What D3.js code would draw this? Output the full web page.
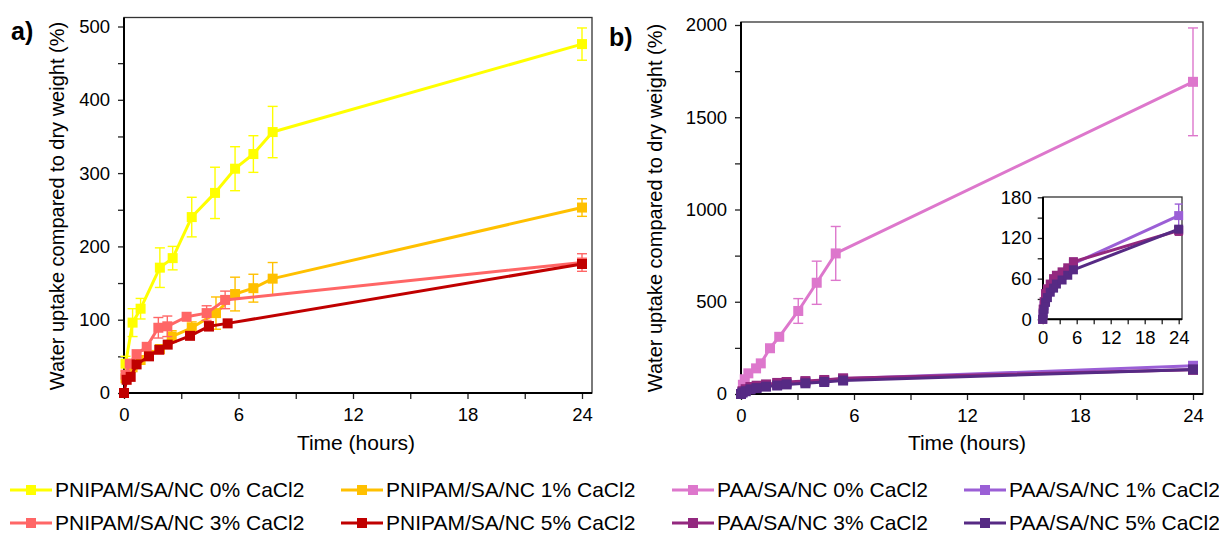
<!DOCTYPE html>
<html>
<head>
<meta charset="utf-8">
<script src="https://cdn.jsdelivr.net/npm/d3@7"></script>
<style>
  body { margin: 0; background: #fff; }
  svg { font-family: "Liberation Sans", Arial, sans-serif; }
  .tick line { stroke: #222; stroke-width: 1.3; }
  .domain { display: none; }
</style>
</head>
<body>
<div id="chart"></div>
<script>
// time in hours, water uptake in %, error bars (0 = none)
const pnTime0 = [0.08, 0.45, 0.87, 1.88, 2.55, 3.55, 4.77, 5.82, 6.78, 7.79, 24];
const pnVal0  = [40, 96, 115, 171, 184, 240, 273, 306, 326, 356, 476];
const pnErr0  = [10, 19, 14, 27, 16, 27, 35, 30, 25, 35, 22];

const pnTime1 = [0.08, 0.45, 0.87, 1.3, 1.88, 2.5, 3.55, 4.82, 5.82, 6.78, 7.79, 24];
const pnVal1  = [20, 35, 45, 52, 60, 77, 89, 109, 135, 143, 156, 253];
const pnErr1  = [0, 0, 0, 0, 0, 8, 8, 22, 23, 19, 22, 12];

const pnTime3 = [0.08, 0.3, 0.66, 1.19, 1.8, 2.27, 3.28, 4.33, 5.3, 24];
const pnVal3  = [25, 40, 53, 63, 89, 91, 104, 109, 127, 178];
const pnErr3  = [0, 0, 0, 0, 14, 14, 0, 10, 12, 12];

const pnTime5 = [0, 0.14, 0.35, 0.66, 1.31, 1.85, 2.29, 3.46, 4.45, 5.43, 24];
const pnVal5  = [0, 18, 22, 39, 50, 59, 66, 78, 91, 95, 176];
const pnErr5  = [0, 0, 0, 0, 0, 0, 0, 0, 6, 0, 5];

const paaTime0 = [0, 0.1, 0.2, 0.39, 0.8, 1.05, 1.54, 2.03, 3.04, 4.02, 5.03, 24];
const paaVal0  = [0, 50, 80, 112, 139, 166, 248, 310, 450, 603, 762, 1692];
const paaErr0  = [0, 0, 0, 0, 0, 0, 0, 0, 67, 117, 146, 292];

const paaTime = [0, 0.08, 0.25, 0.5, 0.83, 1.33, 1.92, 2.42, 3.42, 4.42, 5.42, 24];
const paaVal1 = [0, 10, 20, 30, 38, 45, 52, 58, 65, 72, 82, 153];
const paaErr1 = [0, 0, 0, 0, 0, 0, 0, 0, 0, 0, 8, 17];
const paaVal3 = [0, 15, 26, 38, 45, 52, 60, 65, 70, 76, 85, 131];
const paaErr3 = [0, 0, 0, 0, 0, 0, 0, 0, 0, 0, 4, 7];
const paaVal5 = [0, 8, 15, 25, 32, 40, 46, 52, 58, 65, 73, 133];
const paaErr5 = [0, 0, 0, 0, 0, 0, 0, 0, 0, 0, 0, 4];

const xTicks = [0, 6, 12, 18, 24];
const yTicksA = [0, 100, 200, 300, 400, 500];
const yTicksB = [0, 500, 1000, 1500, 2000];
const yTicksInset = [0, 60, 120, 180];

const seriesA = [
  {name: "PNIPAM/SA/NC 0% CaCl2", color: "#ffff00", t: pnTime0, v: pnVal0, e: pnErr0},
  {name: "PNIPAM/SA/NC 1% CaCl2", color: "#ffc000", t: pnTime1, v: pnVal1, e: pnErr1},
  {name: "PNIPAM/SA/NC 3% CaCl2", color: "#ff6666", t: pnTime3, v: pnVal3, e: pnErr3},
  {name: "PNIPAM/SA/NC 5% CaCl2", color: "#c00000", t: pnTime5, v: pnVal5, e: pnErr5}
];
const seriesB = [
  {name: "PAA/SA/NC 0% CaCl2", color: "#dd77cc", t: paaTime0, v: paaVal0, e: paaErr0},
  {name: "PAA/SA/NC 1% CaCl2", color: "#9b5fd6", t: paaTime, v: paaVal1, e: paaErr1},
  {name: "PAA/SA/NC 3% CaCl2", color: "#93287f", t: paaTime, v: paaVal3, e: paaErr3},
  {name: "PAA/SA/NC 5% CaCl2", color: "#562a84", t: paaTime, v: paaVal5, e: paaErr5}
];

const svg = d3.select("#chart").append("svg")
  .attr("width", 1219).attr("height", 533);

function drawPanel(opts) {
  const g = svg.append("g");
  const x = d3.scaleLinear().domain([0, 24]).range(opts.xr);
  const y = d3.scaleLinear().domain([0, opts.ymax]).range(opts.yr);

  // frame (plot area border)
  g.append("rect")
    .attr("x", opts.frame[0]).attr("y", opts.frame[1])
    .attr("width", opts.frame[2] - opts.frame[0])
    .attr("height", opts.frame[3] - opts.frame[1])
    .attr("fill", "#fff").attr("stroke", "#333").attr("stroke-width", 1.3);

  // axes
  const minorY = d3.range(0, opts.ymax + 0.001, opts.yminor);
  const yAxis = d3.axisLeft(y).tickValues(minorY).tickSize(opts.tick).tickPadding(opts.ypad)
    .tickFormat(d => opts.yticks.includes(d) ? d : "");
  const xAxis = d3.axisBottom(x).tickValues(d3.range(0, 24.001, 3)).tickSize(opts.tick).tickPadding(opts.xpad)
    .tickFormat(d => xTicks.includes(d) ? d : "");

  g.append("g").attr("transform", `translate(${opts.xr[0]},0)`).call(yAxis)
    .selectAll("text").style("font-size", opts.fs + "px").attr("fill", "#000");
  g.append("g").attr("transform", `translate(0,${opts.frame[3]})`).call(xAxis)
    .selectAll("text").style("font-size", opts.fs + "px").attr("fill", "#000");

  // axis lines
  g.append("line").attr("x1", opts.frame[0]).attr("x2", opts.frame[0])
    .attr("y1", opts.frame[1]).attr("y2", opts.frame[3]).attr("stroke", "#000").attr("stroke-width", 2);
  g.append("line").attr("x1", opts.frame[0]).attr("x2", opts.frame[2])
    .attr("y1", opts.frame[3]).attr("y2", opts.frame[3]).attr("stroke", "#000").attr("stroke-width", 2);

  const line = d3.line().x(d => x(d[0])).y(d => y(d[1]));

  opts.series.forEach(s => {
    const pts = s.t.map((t, i) => [t, s.v[i], s.e[i]]);
    g.append("path").datum(pts).attr("d", line)
      .attr("fill", "none").attr("stroke", s.color).attr("stroke-width", opts.lw)
      .attr("stroke-linejoin", "round");

    const eb = g.append("g").attr("stroke", s.color).attr("stroke-width", 1.4);
    pts.filter(p => p[2] > 0).forEach(p => {
      const cx = x(p[0]), y1 = y(p[1] + p[2]), y2 = y(p[1] - p[2]);
      eb.append("line").attr("x1", cx).attr("x2", cx).attr("y1", y1).attr("y2", y2);
      eb.append("line").attr("x1", cx - opts.cap).attr("x2", cx + opts.cap).attr("y1", y1).attr("y2", y1);
      eb.append("line").attr("x1", cx - opts.cap).attr("x2", cx + opts.cap).attr("y1", y2).attr("y2", y2);
    });

    g.selectAll(null).data(pts).enter().append("rect")
      .attr("x", d => x(d[0]) - opts.ms / 2)
      .attr("y", d => y(d[1]) - opts.ms / 2)
      .attr("width", opts.ms).attr("height", opts.ms)
      .attr("fill", s.color);
  });
  return g;
}

// panel a
drawPanel({
  xr: [124, 582], yr: [393, 26.5], ymax: 500, yminor: 50, yticks: yTicksA,
  frame: [124, 17.5, 592, 393], tick: 6, ypad: 8, xpad: 9, fs: 18.5,
  series: seriesA, lw: 3, ms: 10, cap: 5
});

// panel b
drawPanel({
  xr: [741, 1193], yr: [394, 25], ymax: 2000, yminor: 250, yticks: yTicksB,
  frame: [741, 22, 1203, 394], tick: 6, ypad: 8, xpad: 9, fs: 18.5,
  series: seriesB, lw: 3, ms: 10, cap: 5
});

// inset in panel b (purple series only)
drawPanel({
  xr: [1042.7, 1178.7], yr: [319.3, 197.3], ymax: 180, yminor: 30, yticks: yTicksInset,
  frame: [1043, 197, 1182, 319.3], tick: 5, ypad: 6, xpad: 7, fs: 18.5,
  series: seriesB.slice(1), lw: 3, ms: 9, cap: 4
});

// panel letters
svg.append("text").attr("x", 11).attr("y", 40).text("a)")
  .style("font-size", "25px").style("font-weight", "bold");
svg.append("text").attr("x", 609).attr("y", 46).text("b)")
  .style("font-size", "25px").style("font-weight", "bold");

// axis titles
[[64, 206], [662, 208]].forEach(p => {
  svg.append("text")
    .attr("transform", `translate(${p[0]},${p[1]}) rotate(-90)`)
    .attr("text-anchor", "middle")
    .style("font-size", "20px")
    .text("Water uptake compared to dry weight (%)");
});
[[356, 450], [967, 450]].forEach(p => {
  svg.append("text").attr("x", p[0]).attr("y", p[1])
    .attr("text-anchor", "middle").style("font-size", "21px").text("Time (hours)");
});

// legend
const legendPos = [
  [10, 490], [341, 490], [10, 523], [341, 523],
  [672, 490], [964, 490], [672, 523], [964, 523]
];
const legendSeries = seriesA.concat(seriesB);
legendSeries.forEach((s, i) => {
  const [lx, ly] = legendPos[i];
  const lg = svg.append("g").attr("transform", `translate(${lx},${ly})`);
  lg.append("line").attr("x1", 0).attr("x2", 42).attr("y1", 0).attr("y2", 0)
    .attr("stroke", s.color).attr("stroke-width", 3);
  lg.append("rect").attr("x", 16).attr("y", -5).attr("width", 10).attr("height", 10).attr("fill", s.color);
  lg.append("text").attr("x", 45).attr("y", 0).attr("dy", "0.35em")
    .style("font-size", "21px").text(s.name);
});
</script>
</body>
</html>
